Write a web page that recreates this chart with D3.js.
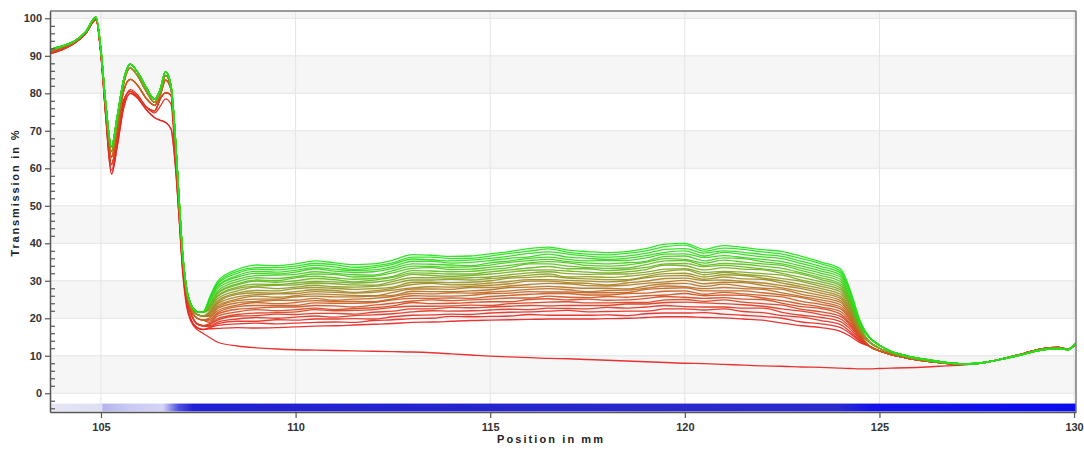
<!DOCTYPE html>
<html><head><meta charset="utf-8">
<script src="https://cdn.jsdelivr.net/npm/d3@7"></script>
<style>html,body{margin:0;padding:0;background:#fff;overflow:hidden}</style>
</head><body><svg id="chart" width="1084" height="450"></svg>
<script>
// ---------- data ----------
const xTicks = [105, 110, 115, 120, 125, 130];
const yTicks = [0, 10, 20, 30, 40, 50, 60, 70, 80, 90, 100];
const yMinor = [-4, -2, 2, 4, 6, 8, 12, 14, 16, 18, 22, 24, 26, 28, 32, 34, 36, 38, 42, 44, 46, 48, 52, 54, 56, 58, 62, 64, 66, 68, 72, 74, 76, 78, 82, 84, 86, 88, 92, 94, 96, 98];
const bandStarts = [0, 20, 40, 60, 80, 100];

// positions (mm) of the sampled points, in three stretches
const headX = [103.7, 104.0, 104.3, 104.6, 104.87, 105.0, 105.12, 105.27, 105.42, 105.58, 105.75, 105.95, 106.15, 106.38, 106.52, 106.66, 106.8, 106.9, 107.0, 107.1, 107.2, 107.32, 107.47, 107.62];
const plateauX = [107.8, 108, 108.5, 109, 109.5, 110, 110.5, 111, 111.5, 112, 112.5, 113, 113.5, 114, 114.5, 115, 115.5, 116, 116.5, 117, 117.5, 118, 118.5, 119, 119.5, 120, 120.5, 121, 121.5, 122, 122.5, 123, 123.5, 124, 124.25, 124.5];
const tailX = [124.75, 125.0, 125.3, 125.7, 126.2, 126.7, 127.2, 127.7, 128.2, 128.7, 129.2, 129.6, 129.85, 130.05];

// head part (first peaks) – transmission in %
const headGreen  = [91.8, 92.6, 93.8, 96.3, 100.3, 91.5, 77.5, 65.8, 74, 83.5, 87.8, 85.5, 81.8, 78.4, 81, 85.8, 82, 70, 53, 37, 28, 23.5, 21.8, 21.6];
const headOlive  = [91.5, 92.4, 93.6, 96.2, 100.2, 91.2, 76.8, 64.5, 72.5, 82.5, 86.8, 84.5, 80.8, 77.6, 80, 84.8, 81.5, 69, 52, 36.5, 27, 23, 21, 20.6];
const headOrange = [91.2, 92.2, 93.5, 96.1, 100, 91, 76.5, 63, 70.5, 80.5, 83.7, 82, 78.8, 76.8, 79.5, 83.5, 81, 68, 51.5, 36, 26.5, 22, 20, 19.5];
const headRed    = [90.8, 91.8, 93.3, 95.9, 99.8, 90.5, 75, 61, 68.5, 78, 80.5, 79, 76.5, 75.3, 78.5, 80.2, 79.5, 66, 50, 35, 25.5, 21, 18.5, 18];
const headLowRed = [90.6, 91.6, 93.2, 95.8, 99.6, 90, 74, 58.5, 66, 76, 80, 78.6, 75.8, 73.5, 72.8, 72.2, 70.5, 62, 48, 33, 24, 19.5, 17.5, 17];
const headOutlier = [90.7, 91.7, 93.2, 95.8, 99.7, 90.2, 74.5, 59.5, 67, 77, 81, 79.5, 76.5, 74.8, 76.5, 78.5, 77, 64, 48, 32, 23, 19, 17, 16];

// tail part (after the drop at 124 mm)
const tailGreen   = [14.8, 12.8, 11.2, 10.0, 9.0, 8.2, 7.8, 8.2, 9.2, 10.4, 11.6, 11.9, 11.6, 13.4];
const tailMid     = [13.6, 12.0, 10.8, 9.7, 8.8, 8.1, 7.75, 8.2, 9.25, 10.5, 11.75, 12.05, 11.7, 13.3];
const tailRed     = [12.5, 11.3, 10.3, 9.4, 8.6, 8.0, 7.7, 8.2, 9.3, 10.6, 11.9, 12.2, 11.8, 13.2];
const tailOutlier = [6.5, 6.6, 6.7, 6.8, 7.0, 7.3, 7.6, 8.2, 9.3, 10.6, 11.9, 12.2, 11.8, 13.2];

// plateau of every measurement, top (green) to bottom (red)
const plateaus = [
 [25.8, 29.9, 33.0, 34.2, 34.0, 34.5, 35.3, 34.8, 34.3, 34.5, 35.5, 37.0, 36.8, 36.5, 36.6, 37.2, 37.8, 38.6, 39.0, 38.2, 37.8, 37.5, 37.8, 38.6, 39.8, 40.0, 38.4, 39.4, 38.9, 38.3, 37.8, 36.5, 35.0, 33.2, 27.5, 19.5],
 [25.5, 29.4, 32.5, 33.5, 33.5, 33.9, 34.6, 34.3, 33.6, 34.0, 34.8, 36.3, 36.3, 35.9, 36.0, 36.6, 37.3, 37.9, 38.5, 37.6, 37.1, 36.9, 37.3, 38.0, 39.1, 39.5, 37.9, 38.7, 38.4, 37.7, 37.1, 35.9, 34.5, 32.6, 27.0, 19.2],
 [25.3, 29.2, 32.0, 33.1, 32.9, 33.4, 34.1, 33.7, 33.0, 33.5, 34.4, 35.8, 35.6, 35.3, 35.5, 36.0, 36.6, 37.3, 37.7, 37.1, 36.6, 36.3, 36.6, 37.3, 38.4, 38.6, 37.4, 38.0, 37.6, 37.0, 36.5, 35.2, 33.8, 32.1, 26.8, 19.0],
 [24.9, 28.6, 31.4, 32.5, 32.3, 32.8, 33.5, 33.1, 32.7, 32.9, 33.8, 35.2, 35.2, 34.7, 34.9, 35.4, 36.0, 36.4, 37.1, 36.3, 36.0, 35.7, 36.0, 36.7, 37.6, 38.0, 36.6, 37.6, 37.0, 36.4, 35.9, 34.6, 33.2, 31.5, 26.2, 18.7],
 [25.2, 28.5, 31.0, 32.0, 31.8, 32.3, 33.2, 32.6, 32.2, 32.4, 33.3, 34.5, 34.4, 34.2, 34.0, 34.8, 35.3, 36.0, 36.3, 35.7, 35.3, 35.4, 35.4, 36.1, 37.1, 37.2, 36.2, 36.7, 36.2, 35.7, 35.1, 33.9, 32.6, 31.0, 25.0, 18.3],
 [24.6, 27.9, 30.4, 31.4, 31.5, 31.7, 32.4, 32.0, 31.6, 31.5, 32.7, 33.9, 33.8, 33.6, 33.7, 34.2, 34.9, 35.4, 35.7, 35.1, 34.7, 34.5, 34.8, 35.2, 36.5, 36.6, 35.3, 36.1, 35.9, 35.1, 34.5, 33.3, 32.0, 30.4, 25.4, 18.5],
 [24.0, 27.3, 29.8, 30.8, 30.6, 31.1, 31.8, 31.7, 31.0, 31.2, 32.1, 33.3, 33.5, 33.0, 33.1, 33.6, 34.1, 34.8, 35.1, 34.8, 34.1, 33.9, 34.2, 34.9, 35.9, 35.7, 34.7, 35.5, 35.0, 34.5, 34.1, 32.7, 31.4, 29.8, 25.0, 18.3],
 [23.7, 26.8, 29.2, 30.2, 30.0, 30.8, 31.2, 30.8, 30.4, 30.6, 31.2, 32.7, 32.6, 32.4, 32.5, 33.0, 33.5, 34.5, 34.5, 33.9, 33.5, 33.3, 33.4, 34.3, 35.3, 35.4, 34.1, 34.6, 34.4, 33.9, 33.3, 32.1, 30.8, 29.2, 24.5, 18.1],
 [23.6, 26.7, 28.9, 29.9, 29.6, 30.0, 30.6, 30.3, 29.7, 30.2, 30.9, 32.1, 32.0, 31.8, 31.8, 32.4, 32.9, 33.4, 33.8, 33.2, 33.2, 32.7, 33.0, 33.6, 34.5, 34.6, 33.8, 34.1, 33.7, 33.2, 32.6, 31.8, 30.3, 28.7, 24.2, 17.9],
 [23.1, 26.1, 28.3, 29.1, 29.0, 29.4, 29.8, 29.7, 29.4, 29.6, 30.3, 31.7, 31.4, 31.2, 31.4, 31.8, 32.3, 32.8, 32.9, 32.6, 32.3, 32.1, 32.4, 33.0, 34.2, 34.0, 32.9, 33.5, 33.1, 32.9, 32.0, 30.9, 29.7, 28.1, 23.7, 17.6],
 [22.8, 25.9, 27.9, 28.6, 28.8, 28.9, 29.4, 29.2, 28.9, 28.8, 29.8, 30.8, 30.8, 30.7, 30.8, 31.0, 31.6, 32.1, 32.4, 31.9, 31.7, 31.8, 31.8, 32.3, 33.1, 33.2, 32.2, 32.5, 32.3, 31.9, 31.5, 30.2, 29.1, 27.6, 23.3, 17.5],
 [22.5, 25.3, 27.3, 28.3, 27.9, 28.3, 28.8, 28.4, 28.3, 28.5, 29.2, 30.2, 30.2, 30.4, 30.2, 30.6, 31.0, 31.5, 31.8, 31.0, 31.1, 30.9, 31.2, 31.7, 32.5, 32.9, 31.6, 32.2, 31.7, 31.3, 30.6, 29.8, 28.5, 27.0, 23.0, 17.3],
 [22.0, 24.7, 26.7, 27.4, 27.3, 27.9, 28.2, 28.0, 27.7, 27.9, 28.3, 29.6, 29.6, 29.5, 29.6, 30.0, 30.7, 30.9, 31.2, 30.7, 30.5, 30.3, 30.3, 31.1, 31.9, 32.0, 31.0, 31.6, 31.4, 30.7, 30.0, 29.0, 27.9, 26.4, 22.5, 17.0],
 [21.7, 24.3, 26.4, 26.8, 26.7, 27.1, 27.6, 27.4, 26.9, 27.3, 28.0, 29.0, 29.3, 28.9, 29.0, 29.4, 29.8, 30.3, 30.3, 30.1, 29.9, 29.7, 30.0, 30.8, 31.3, 31.4, 30.4, 31.0, 30.5, 30.4, 29.4, 28.4, 27.3, 25.8, 22.1, 16.9],
 [21.4, 23.9, 25.7, 26.3, 26.5, 26.6, 27.1, 26.9, 26.7, 26.9, 27.5, 28.1, 28.4, 28.3, 28.5, 28.8, 29.2, 29.9, 29.9, 29.5, 29.3, 28.9, 29.4, 29.9, 30.6, 30.7, 30.1, 30.2, 29.8, 29.4, 28.7, 27.9, 26.7, 25.3, 21.7, 16.7],
 [21.1, 23.4, 25.1, 25.9, 25.6, 26.0, 26.5, 26.3, 26.1, 26.0, 26.9, 27.8, 27.8, 27.7, 28.2, 28.2, 28.6, 29.0, 29.3, 29.2, 28.7, 28.6, 28.8, 29.3, 29.7, 30.1, 29.2, 29.6, 29.5, 28.8, 28.1, 27.1, 26.1, 24.7, 21.2, 16.4],
 [20.8, 23.0, 24.7, 25.1, 25.1, 25.7, 25.9, 25.7, 25.7, 25.9, 26.1, 27.2, 27.1, 27.1, 27.3, 27.6, 28.2, 28.3, 28.5, 28.2, 28.0, 28.0, 27.8, 28.6, 29.2, 29.3, 28.5, 29.1, 28.5, 28.0, 27.7, 26.4, 25.5, 24.2, 20.9, 16.3],
 [20.5, 22.6, 24.1, 24.5, 24.8, 24.8, 25.3, 24.8, 25.1, 25.3, 25.8, 26.6, 26.5, 26.8, 26.7, 27.0, 27.3, 27.7, 27.9, 27.6, 27.1, 27.4, 27.5, 28.0, 28.6, 28.4, 27.9, 28.2, 27.9, 27.7, 26.8, 25.8, 24.9, 23.6, 20.4, 16.0],
 [20.1, 22.0, 23.5, 24.2, 23.9, 24.2, 24.7, 24.5, 24.5, 24.4, 25.2, 26.0, 25.9, 25.9, 26.1, 26.6, 26.7, 27.1, 27.0, 27.0, 26.8, 26.8, 26.9, 27.7, 28.0, 28.1, 27.3, 27.3, 27.3, 26.8, 26.2, 25.5, 24.3, 23.0, 20.0, 15.8],
 [19.7, 21.5, 23.1, 23.4, 23.4, 23.4, 24.1, 24.0, 24.0, 24.2, 24.9, 25.3, 25.3, 25.4, 25.3, 25.8, 26.1, 26.4, 26.6, 26.6, 26.2, 26.2, 26.6, 26.7, 27.2, 27.3, 26.4, 26.9, 26.5, 26.1, 25.7, 24.5, 23.7, 22.5, 19.6, 15.7],
 [19.3, 21.1, 22.4, 22.7, 23.0, 23.0, 23.4, 23.3, 23.0, 23.5, 24.0, 24.6, 24.9, 24.7, 24.9, 25.1, 25.4, 25.4, 25.9, 25.6, 25.5, 25.8, 25.6, 26.0, 26.2, 26.6, 26.0, 26.2, 26.1, 25.4, 24.7, 23.8, 23.0, 21.8, 19.1, 15.4],
 [18.9, 20.6, 21.7, 22.3, 22.0, 22.3, 22.7, 22.3, 22.6, 22.8, 23.3, 24.2, 23.9, 24.0, 24.2, 24.4, 24.4, 25.0, 25.2, 24.9, 25.1, 24.8, 24.9, 25.3, 25.8, 25.6, 25.3, 25.5, 25.1, 25.0, 24.0, 23.1, 22.6, 21.1, 18.6, 15.2],
 [18.6, 19.9, 21.0, 21.4, 21.5, 21.7, 22.3, 22.0, 22.1, 22.3, 22.9, 23.2, 23.2, 23.3, 23.5, 23.4, 23.9, 24.1, 24.3, 24.4, 24.1, 24.1, 24.2, 24.2, 24.9, 25.0, 24.5, 24.9, 24.3, 23.9, 23.5, 22.4, 21.7, 20.5, 18.2, 15.0],
 [18.3, 19.5, 20.6, 20.7, 21.1, 21.0, 21.3, 21.3, 21.1, 21.6, 21.9, 22.5, 22.5, 22.9, 22.8, 23.0, 23.2, 23.4, 23.3, 23.4, 23.4, 23.4, 23.8, 23.8, 24.2, 24.3, 24.1, 23.9, 23.6, 23.2, 22.5, 21.9, 21.0, 19.8, 17.7, 14.7],
 [18.0, 19.0, 19.8, 20.2, 20.0, 20.3, 20.6, 20.3, 20.7, 20.9, 21.2, 21.7, 22.0, 21.9, 22.0, 22.2, 22.4, 22.3, 22.7, 22.6, 22.5, 22.9, 22.7, 23.0, 23.4, 23.1, 23.0, 23.0, 22.7, 22.7, 21.6, 20.8, 20.2, 19.1, 17.1, 14.4],
 [17.7, 18.6, 19.2, 19.2, 19.6, 19.5, 19.8, 19.8, 19.9, 19.8, 20.4, 20.8, 20.9, 21.1, 21.0, 21.4, 21.6, 21.7, 21.9, 22.1, 21.7, 21.8, 21.9, 21.9, 22.5, 22.5, 22.2, 22.5, 21.8, 21.5, 20.7, 20.3, 19.4, 18.3, 16.4, 14.1],
 [17.5, 18.1, 18.5, 18.7, 18.5, 18.7, 18.9, 19.0, 18.9, 19.4, 19.6, 19.9, 20.0, 20.5, 20.4, 20.5, 20.6, 21.0, 20.8, 20.8, 20.8, 20.9, 20.7, 21.2, 21.4, 21.4, 21.5, 21.1, 20.8, 20.5, 20.0, 19.0, 18.5, 17.5, 15.9, 13.8],
 [17.2, 17.3, 17.5, 17.4, 17.5, 17.7, 17.9, 18.0, 18.2, 18.4, 18.6, 18.9, 19.0, 19.2, 19.4, 19.5, 19.6, 19.7, 19.8, 19.8, 19.8, 19.9, 20.0, 20.2, 20.4, 20.4, 20.2, 20.1, 19.8, 19.5, 18.7, 18.0, 17.5, 16.5, 15.2, 13.5]
];
const plateauOutlier = [14.8, 13.6, 12.6, 12.1, 11.8, 11.6, 11.5, 11.4, 11.3, 11.2, 11.1, 11.0, 10.8, 10.5, 10.2, 9.9, 9.7, 9.5, 9.3, 9.2, 9.0, 8.8, 8.6, 8.4, 8.2, 8.0, 7.9, 7.7, 7.5, 7.3, 7.2, 7.0, 6.9, 6.7, 6.6, 6.5];

// which head / tail shape each measurement follows (index into the lists below)
const headOfLine = [0,0,0,0,0,0,0,0,0,0,0,0, 1,1,1,1,1,1, 2,2,2,2, 3,3,3,3, 4,4];
const tailOfLine = [0,0,0,0,0,0,0,0,0, 1,1,1,1,1,1,1,1,1,1, 2,2,2,2,2,2,2,2,2];
const heads = [headGreen, headOlive, headOrange, headRed, headLowRed];
const tails = [tailGreen, tailMid, tailRed];

// ---------- layout ----------
const svg = d3.select("#chart");
const L = 50, R = 1076, T = 11, B = 412;
const x = d3.scaleLinear().domain([103.69, 130.05]).range([L, R]);
const y = d3.scaleLinear().domain([-5, 101.95]).range([B, T]);
const font = "'Liberation Sans', Arial, sans-serif";

svg.append("defs").append("clipPath").attr("id", "clip")
  .append("rect").attr("x", L).attr("y", T).attr("width", R - L).attr("height", B - T);

const bg = svg.append("g").attr("clip-path", "url(#clip)");
bg.selectAll("rect.band").data(bandStarts).join("rect")
  .attr("x", L).attr("width", R - L)
  .attr("y", d => y(d + 10)).attr("height", d => y(d) - y(d + 10))
  .attr("fill", "#f6f6f6");
bg.selectAll("line.hg").data(yTicks).join("line")
  .attr("x1", L).attr("x2", R).attr("y1", d => y(d)).attr("y2", d => y(d))
  .attr("stroke", "#e4e4e4").attr("stroke-width", 1);
bg.selectAll("line.vg").data(xTicks).join("line")
  .attr("y1", T).attr("y2", B).attr("x1", d => x(d)).attr("x2", d => x(d))
  .attr("stroke", "#e4e4e4").attr("stroke-width", 1);

// blue position bar
const grad = svg.select("defs").append("linearGradient").attr("id", "bar")
  .attr("x1", "0").attr("x2", "1").attr("y1", "0").attr("y2", "0");
[[0, "#e6e6f6"], [0.05, "#dedef4"], [0.052, "#b4b4ee"], [0.075, "#c8c8f4"], [0.11, "#d4d4f6"],
 [0.125, "#5050e0"], [0.14, "#2020d4"], [0.6, "#2828cc"], [0.77, "#2a2ad0"], [0.8, "#1414e8"], [1, "#0c0cee"]]
  .forEach(([o, c]) => grad.append("stop").attr("offset", o).attr("stop-color", c));
bg.append("rect").attr("x", x(103.69)).attr("width", x(130.05) - x(103.69))
  .attr("y", y(-2.75)).attr("height", y(-4.85) - y(-2.75)).attr("fill", "url(#bar)");

// ---------- lines ----------
const color = d3.interpolateRgbBasis(["#e82424", "#dc3a1e", "#c8641e", "#a8821e", "#74b01e", "#3ad41e", "#22e21a"]);
const line = d3.line().x(d => x(d[0])).y(d => y(d[1])).curve(d3.curveMonotoneX);
function pts(xs, vs) { return xs.map((v, i) => [v, vs[i]]).filter(p => p[1] !== undefined); }

const series = plateaus.map((p, i) => ({
  pts: pts(headX, heads[headOfLine[i]]).concat(pts(plateauX, p), pts(tailX, tails[tailOfLine[i]])),
  c: color(1 - i / (plateaus.length - 1))
}));
const outlier = { pts: pts(headX, headOutlier).concat(pts(plateauX, plateauOutlier), pts(tailX, tailOutlier)), c: "#e83232" };

const gl = svg.append("g").attr("clip-path", "url(#clip)").attr("fill", "none");
gl.append("path").attr("d", line(outlier.pts)).attr("stroke", outlier.c).attr("stroke-width", 1.3);
gl.selectAll("path.s").data(series.slice().reverse()).join("path")
  .attr("d", d => line(d.pts)).attr("stroke", d => d.c)
  .attr("stroke-width", 1.3).attr("stroke-opacity", 0.92);

// ---------- frame & axes ----------
svg.append("line").attr("x1", L).attr("x2", R).attr("y1", T).attr("y2", T).attr("stroke", "#7a7a7a").attr("stroke-width", 1.5);
svg.append("line").attr("x1", R).attr("x2", R).attr("y1", T).attr("y2", B).attr("stroke", "#7a7a7a").attr("stroke-width", 1.5);

const gy = svg.append("g").attr("transform", `translate(${L},0)`)
  .call(d3.axisLeft(y).tickValues(yTicks).tickSize(5).tickPadding(3).tickSizeOuter(0));
const gyMinor = svg.append("g").attr("transform", `translate(${L},0)`)
  .call(d3.axisRight(y).tickValues(yMinor).tickSize(5).tickFormat("").tickSizeOuter(0));
gyMinor.select(".domain").remove();
const gx = svg.append("g").attr("transform", `translate(0,${B})`)
  .call(d3.axisBottom(x).tickValues(xTicks).tickSize(6).tickPadding(5).tickSizeOuter(0));

[gy, gyMinor, gx].forEach(g => {
  g.selectAll("path.domain").attr("stroke", "#555").attr("stroke-width", 1.5);
  g.selectAll(".tick line").attr("stroke", "#555").attr("stroke-width", 1.2);
  g.selectAll("text").attr("fill", "#333").attr("font-family", font)
    .attr("font-size", 11).attr("font-weight", "bold");
});

svg.append("text").attr("x", 550).attr("y", 443).attr("text-anchor", "middle")
  .attr("font-family", font).attr("font-size", 11).attr("font-weight", "bold").attr("fill", "#222")
  .attr("textLength", 106).attr("lengthAdjust", "spacing")
  .text("Position in mm");
svg.append("text").attr("transform", "translate(19,193.5) rotate(-90)").attr("text-anchor", "middle")
  .attr("font-family", font).attr("font-size", 11).attr("font-weight", "bold").attr("fill", "#222")
  .attr("textLength", 126).attr("lengthAdjust", "spacing")
  .text("Transmission in %");
</script></body></html>
